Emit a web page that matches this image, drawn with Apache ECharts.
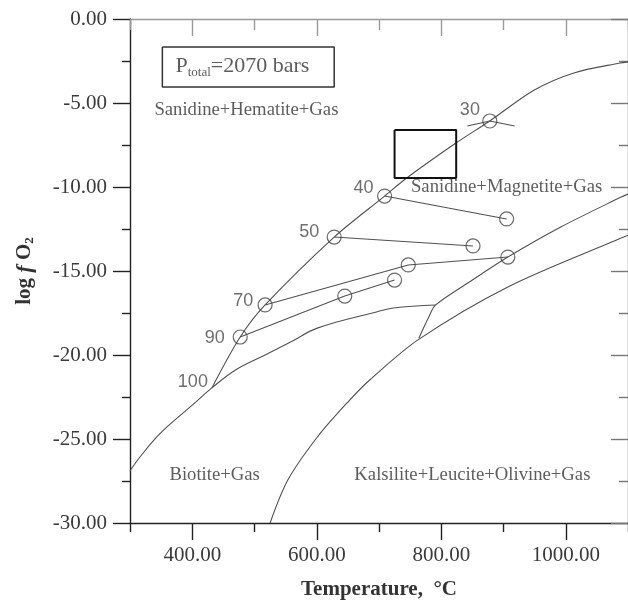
<!DOCTYPE html>
<html><head><meta charset="utf-8">
<script src="https://cdn.jsdelivr.net/npm/echarts@6/dist/echarts.min.js"></script>
<style>html,body{margin:0;padding:0;background:#fff}#c{width:628px;height:606px}</style>
</head><body><div id="c"></div>
<script>
// ---- tick labels / axis ranges ----
const xMajorTicks = [400, 600, 800, 1000];
const xMinorTicks = [300, 500, 700, 900, 1100];
const yMajorTicks = [-30, -25, -20, -15, -10, -5, 0];
const yMinorTicks = [-27.5, -22.5, -17.5, -12.5, -7.5, -2.5];

// ---- boundary curves [T, log fO2] ----
const curveBiotiteLower = [[300,-26.9],[316,-26.07],[343,-24.88],[359,-24.29],[400,-22.98],[431.5,-21.96],[469.5,-20.89],[517,-20.0],[558,-19.23],[601,-18.4],[696,-17.44],[723,-17.2],[791,-17.02]];
const curveHemMag = [[431.5,-21.96],[477,-18.93],[517,-17.02],[628,-12.98],[709,-10.54],[744,-9.48],[823,-7.4],[878,-6.07],[949.5,-4.23],[1013,-3.21],[1087,-2.62],[1100,-2.55]];
const curveMagBoundary = [[764,-19.0],[780,-17.74],[791,-17.02],[850,-15.54],[907,-14.17],[992,-12.38],[1089,-10.6],[1100,-10.42]];
const curveKalsilite = [[525,-30.0],[553.5,-27.44],[601,-24.88],[648.5,-22.86],[685,-21.49],[762.6,-19.1],[907,-15.95],[1089,-13.04],[1100,-12.87]];

// ---- tie lines ----
const tie30 = [[842,-6.37],[878,-6.07],[918,-6.37]];
const tie40 = [[709,-10.54],[905,-11.9]];
const tie50 = [[628,-12.98],[851,-13.51]];
const tie70 = [[517,-17.02],[747,-14.64],[907,-14.17]];
const tie90 = [[477,-18.93],[645,-16.49],[725,-15.54]];

// ---- circle markers ----
const circlePoints = [[878,-6.07],[709,-10.54],[905,-11.9],[628,-12.98],[851,-13.51],[517,-17.02],[747,-14.64],[907,-14.17],[477,-18.93],[645,-16.49],[725,-15.54]];

// ---- rectangle ----
const rectBox = [[725,-6.6],[824,-6.6],[824,-9.46],[725,-9.46],[725,-6.6]];

// ---- annotations ----
const regionLabels = ['Sanidine+Hematite+Gas','Sanidine+Magnetite+Gas','Biotite+Gas','Kalsilite+Leucite+Olivine+Gas'];
const regionLabelPos = [[487,-5.42],[905,-10.0],[436,-27.14],[850,-27.14]];
const pctLabels = ['30','40','50','70','90','100'];
const pctLabelPos = [[846,-5.42],[675,-10.06],[588,-12.68],[482,-16.79],[436,-18.99],[401,-21.61]];
const pressureBox = [[352,-1.67],[628,-1.67],[628,-4.05],[352,-4.05],[352,-1.67]];
const pressureLabelPos = [373,-2.8];

const SERIF = 'Liberation Serif';
const SANS = 'Liberation Sans';
const LINE = '#505050';

function xAxisDef(pos, ticks, len, inside, showLine, showLabel, lineColor) {
  return {
    type: 'value', position: pos, min: 300, max: 1100, interval: 100,
    axisLine: {show: showLine, onZero: false, lineStyle: {color: lineColor, width: 1.4}},
    axisTick: {show: true, inside: inside, length: len, customValues: ticks, lineStyle: {color: lineColor, width: 1.4}},
    axisLabel: showLabel ? {show: true, customValues: ticks, formatter: v => v.toFixed(2), fontFamily: SERIF, fontSize: 21, color: '#3a3a3a', margin: 22} : {show: false},
    splitLine: {show: false}
  };
}
function yAxisDef(pos, ticks, len, inside, showLine, showLabel, lineColor) {
  return {
    type: 'value', position: pos, min: -30, max: 0, interval: 5,
    axisLine: {show: showLine, onZero: false, lineStyle: {color: lineColor, width: 1.4}},
    axisTick: {show: true, inside: inside, length: len, customValues: ticks, lineStyle: {color: lineColor, width: 1.4}},
    axisLabel: showLabel ? {show: true, customValues: ticks, formatter: v => v.toFixed(2), fontFamily: SERIF, fontSize: 21, color: '#3a3a3a', margin: 23} : {show: false},
    splitLine: {show: false}
  };
}

const xAxes = [
  Object.assign(xAxisDef('bottom', xMajorTicks, 17, false, true, true, '#222'), {
    name: 'Temperature,  °C', nameLocation: 'middle', nameGap: 56,
    nameTextStyle: {fontFamily: SERIF, fontWeight: 'bold', fontSize: 21, color: '#333'}
  }),
  xAxisDef('bottom', xMinorTicks, 9, false, false, false, '#222'),
  xAxisDef('top', xMajorTicks, 17, true, true, false, '#999'),
  xAxisDef('top', xMinorTicks, 11, true, false, false, '#999')
];
const yAxes = [
  Object.assign(yAxisDef('left', yMajorTicks, 17, false, true, true, '#222'), {
    name: 'log {i|f} O{s|2}', nameLocation: 'middle', nameGap: 94,
    nameTextStyle: {fontFamily: SERIF, fontWeight: 'bold', fontSize: 21, color: '#333',
      rich: {i: {fontFamily: SERIF, fontStyle: 'italic', fontWeight: 'bold', fontSize: 22, color: '#333'},
             s: {fontFamily: SERIF, fontWeight: 'bold', fontSize: 13, color: '#333', verticalAlign: 'bottom'}}}
  }),
  yAxisDef('left', yMinorTicks, 8, false, false, false, '#222'),
  yAxisDef('right', yMajorTicks, 17, true, true, false, '#777'),
  yAxisDef('right', yMinorTicks, 9, true, false, false, '#777')
];

function curve(data, smooth) {
  return {type: 'line', data: data, xAxisIndex: 0, yAxisIndex: 0, symbol: 'none', smooth: smooth,
          lineStyle: {color: LINE, width: 1.1}, silent: true, z: 2};
}

const series = [
  curve(curveBiotiteLower, 0.4),
  curve(curveHemMag, 0.3),
  curve(curveMagBoundary, 0.3),
  curve(curveKalsilite, 0.3),
  curve(tie30, false), curve(tie40, false), curve(tie50, false), curve(tie70, false), curve(tie90, false),
  {type: 'line', data: rectBox, symbol: 'none', lineStyle: {color: '#111', width: 2}, z: 3},
  {type: 'line', data: pressureBox, symbol: 'none', lineStyle: {color: '#333', width: 1.5}, z: 3},
  {type: 'scatter', data: circlePoints, symbol: 'circle', symbolSize: 14,
   itemStyle: {color: 'rgba(255,255,255,0)', borderColor: '#444', borderWidth: 1.2}, z: 4},
  {type: 'scatter', symbolSize: 0, z: 5,
   data: regionLabels.map((t, i) => ({value: regionLabelPos[i], label: {formatter: t}})),
   label: {show: true, position: 'inside', fontFamily: SERIF, fontSize: 18.7, color: '#333'}},
  {type: 'scatter', symbolSize: 0, z: 5,
   data: pctLabels.map((t, i) => ({value: pctLabelPos[i], label: {formatter: t}})),
   label: {show: true, position: 'inside', fontFamily: SANS, fontSize: 18, color: '#4a4a4a'}},
  {type: 'scatter', symbolSize: 0, z: 5,
   data: [{value: pressureLabelPos, label: {formatter: '{m|P}{s|total}{m|=2070 bars}'}}],
   label: {show: true, position: 'inside', align: 'left', verticalAlign: 'middle',
     rich: {m: {fontFamily: SERIF, fontSize: 22, color: '#333', lineHeight: 26},
            s: {fontFamily: SERIF, fontSize: 13, color: '#333', verticalAlign: 'bottom', lineHeight: 13}}}}
];

const chart = echarts.init(document.getElementById('c'), null, {renderer: 'canvas'});
chart.setOption({
  animation: false,
  backgroundColor: '#fff',
  grid: {left: 130, top: 19, width: 505, height: 504, containLabel: false},
  xAxis: xAxes,
  yAxis: yAxes,
  series: series
});
</script>
</body></html>
